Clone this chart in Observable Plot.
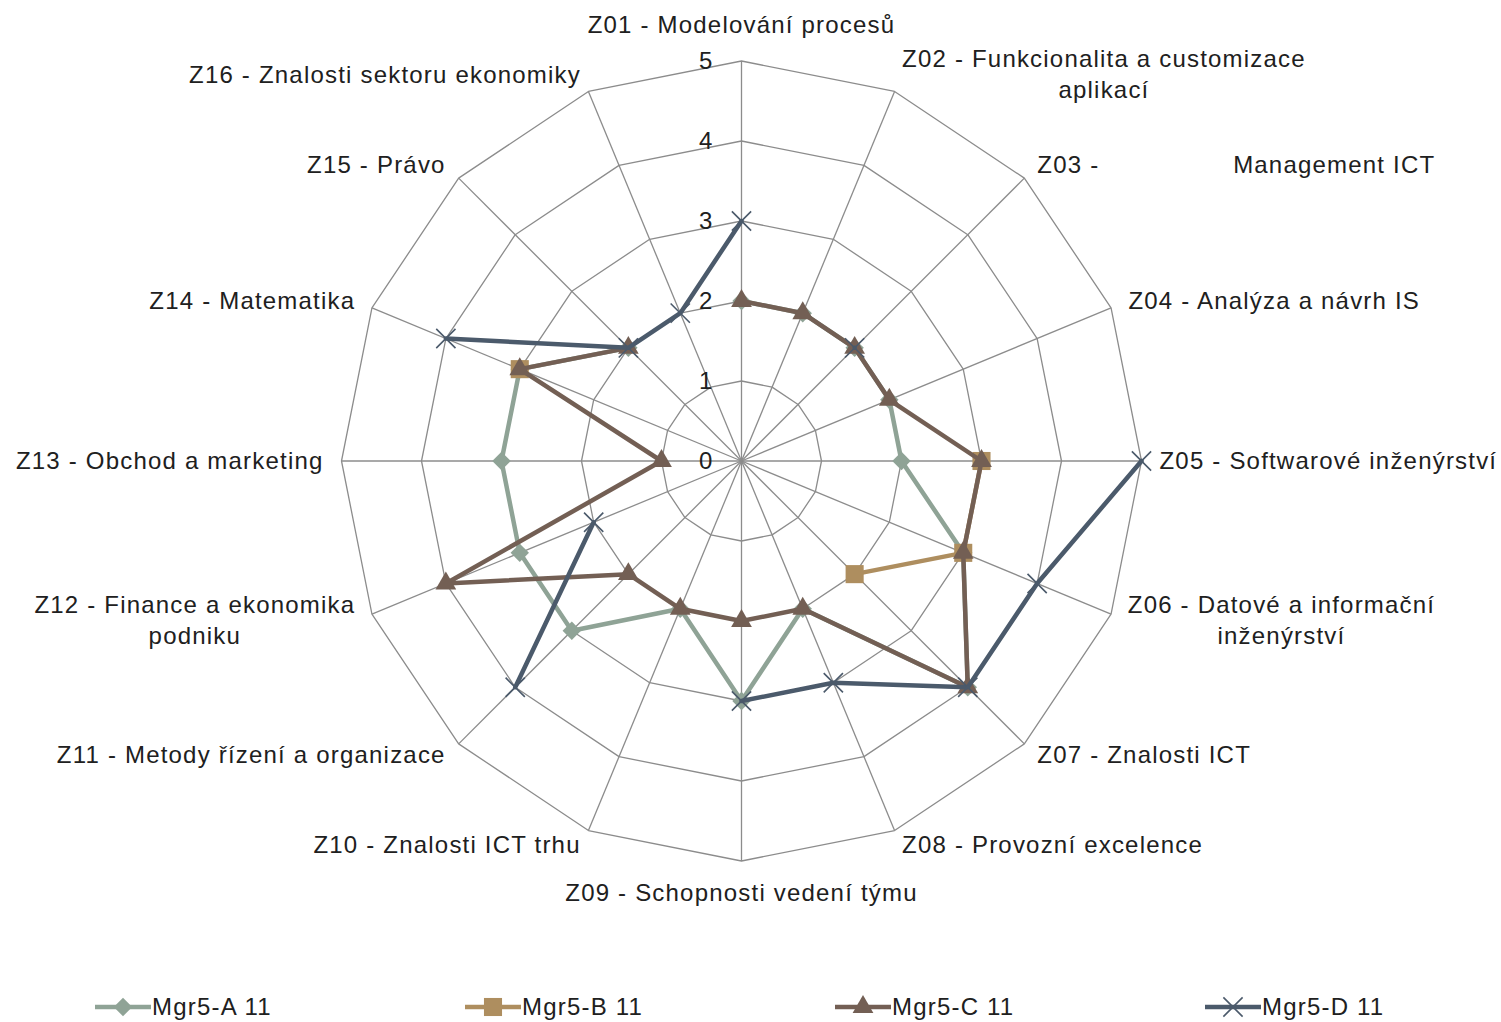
<!DOCTYPE html>
<html>
<head>
<meta charset="utf-8">
<script src="https://cdn.jsdelivr.net/npm/d3@7"></script>
<script src="https://cdn.jsdelivr.net/npm/@observablehq/plot@0.6"></script>
<style>
  body { margin: 0; background: #fff; font-family: "Liberation Sans", Arial, sans-serif; }
  #chart svg text { letter-spacing: 1.2px; }
  #legend { position: relative; width: 1501px; height: 34px; }
  .item { position: absolute; top: 0; height: 34px; display: flex; align-items: center;
          font-size: 24px; color: #202020; letter-spacing: 1.2px; white-space: nowrap; }
  .item svg { display: block; margin-right: 1px; }
</style>
</head>
<body>
<div id="chart"></div>
<div id="legend"></div>
<script>
// ---------- data ----------
const categories = [
  "Z01 - Modelování procesů",
  "Z02 - Funkcionalita a customizace\naplikací",
  "Z03 -" + "\u00a0".repeat(17) + "Management ICT",
  "Z04 - Analýza a návrh IS",
  "Z05 - Softwarové inženýrství",
  "Z06 - Datové a informační\ninženýrství",
  "Z07 - Znalosti ICT",
  "Z08 - Provozní excelence",
  "Z09 - Schopnosti vedení týmu",
  "Z10 - Znalosti ICT trhu",
  "Z11 - Metody řízení a organizace",
  "Z12 - Finance a ekonomika\npodniku",
  "Z13 - Obchod a marketing",
  "Z14 - Matematika",
  "Z15 - Právo",
  "Z16 - Znalosti sektoru ekonomiky"
];
const seriesNames = ["Mgr5-A 11", "Mgr5-B 11", "Mgr5-C 11", "Mgr5-D 11"];
const valuesA = [2, 2, 2, 2, 2, 3, 4, 2, 3, 2, 3, 3, 3, 3, 2, null];
const valuesB = [null, null, null, null, 3, 3, 2, null, null, null, null, null, null, 3, null, null];
const valuesC = [2, 2, 2, 2, 3, 3, 4, 2, 2, 2, 2, 4, 1, 3, 2, null];
const valuesD = [3, null, 2, null, 5, 4, 4, 3, 3, null, 4, 2, null, 4, 2, 2];
const tickValues = [0, 1, 2, 3, 4, 5];

// ---------- styles ----------
const seriesStyle = [
  { values: valuesA, color: "#8fa396", symbol: "diamond2", r: 8.3 },
  { values: valuesB, color: "#ae8e5f", symbol: "square", r: 10.2 },
  { values: valuesC, color: "#735f54", symbol: "triangle", r: 7.7 },
  { values: valuesD, color: "#4b5a6b", symbol: "times", r: 8.8 }
];

const W = 1501, H = 990, CX = 741, CY = 460.5, K = 80, MAXV = 5;
const FONT = 24, LS = 1.2, TXT = "#202020", GRID = "#8c8c8c";
const n = categories.length;
const ang = i => (i % n) * 2 * Math.PI / n;
const px = (v, i) => v * Math.sin(ang(i));
const py = (v, i) => v * Math.cos(ang(i));

// grid
const rings = d3.range(1, MAXV + 1).flatMap(level =>
  d3.range(n + 1).map(j => ({ level, x: px(level, j), y: py(level, j) })));
const spokes = d3.range(n).map(i => ({ x2: px(MAXV, i), y2: py(MAXV, i) }));

// labels (measured to centre multi-line blocks)
const ctx = document.createElement("canvas").getContext("2d");
ctx.font = `${FONT}px "Liberation Sans", Arial, sans-serif`;
const textW = s => ctx.measureText(s).width + s.length * LS;
const labels = categories.map((c, i) => {
  const s = Math.sin(ang(i)), co = Math.cos(ang(i));
  const w = d3.max(c.split("\n"), textW);
  let dxp, dyp;
  if (Math.abs(s) < 1e-6) { dxp = 0; dyp = co > 0 ? -38 : 30; }
  else {
    dxp = Math.sign(s) * (17 * Math.abs(s) + 1 + w / 2);
    dyp = (Math.abs(co) < 1e-6 ? 0 : -16 * co) - 2 - 2 * Math.max(co, 0);
  }
  return { text: c, x: MAXV * s + dxp / K, y: MAXV * co - dyp / K };
});

// series rows (closing back to the first category)
const seriesRows = seriesStyle.map((st, si) =>
  d3.range(n + 1).map(j => {
    const i = j % n, v = st.values[i];
    return { series: seriesNames[si], j, v,
      x: v == null ? NaN : px(v, i), y: v == null ? NaN : py(v, i) };
  }));

const seriesMarks = seriesStyle.flatMap((st, si) => {
  const rows = seriesRows[si];
  const pts = rows.filter(d => d.j < n && d.v != null);
  const dot = st.symbol === "times"
    ? Plot.dot(pts, { x: "x", y: "y", symbol: st.symbol, r: st.r, stroke: st.color, strokeWidth: 1.6, fill: "none" })
    : Plot.dot(pts, { x: "x", y: "y", symbol: st.symbol, r: st.r, fill: st.color, stroke: "none" });
  return [
    Plot.line(rows, { x: "x", y: "y", stroke: st.color, strokeWidth: 4.5, curve: "linear", strokeLinejoin: "round" }),
    dot
  ];
});

const chart = Plot.plot({
  width: W, height: H, margin: 0,
  x: { domain: [-CX / K, (W - CX) / K], axis: null },
  y: { domain: [-(H - CY) / K, CY / K], axis: null },
  style: { background: "#fff", fontFamily: '"Liberation Sans", Arial, sans-serif', overflow: "visible" },
  marks: [
    Plot.line(rings, { x: "x", y: "y", z: "level", stroke: GRID, strokeWidth: 1.3 }),
    Plot.link(spokes, { x1: () => 0, y1: () => 0, x2: "x2", y2: "y2", stroke: GRID, strokeWidth: 1.3 }),
    Plot.text(tickValues, { x: () => 0, y: d => d, text: d => String(d), textAnchor: "end", dx: -28,
      fontSize: FONT, fill: TXT }),
    Plot.text(labels, { x: "x", y: "y", text: "text", textAnchor: "middle", lineAnchor: "middle",
      lineHeight: 1.3, fontSize: FONT, fill: TXT }),
    ...seriesMarks
  ]
});
document.getElementById("chart").append(chart);

// ---------- legend ----------
const legend = d3.select("#legend");
const symMap = { diamond2: d3.symbolDiamond2, square: d3.symbolSquare, triangle: d3.symbolTriangle, times: d3.symbolTimes };
seriesStyle.forEach((st, si) => {
  const item = legend.append("div").attr("class", "item").style("left", (95 + si * 370) + "px");
  const svg = item.append("svg").attr("width", 56).attr("height", 34);
  svg.append("line").attr("x1", 0).attr("x2", 56).attr("y1", 17).attr("y2", 17)
    .attr("stroke", st.color).attr("stroke-width", 4.5);
  const path = d3.symbol(symMap[st.symbol], st.r * st.r * Math.PI)();
  const p = svg.append("path").attr("d", path).attr("transform", "translate(28,17)");
  if (st.symbol === "times") p.attr("fill", "none").attr("stroke", st.color).attr("stroke-width", 1.6);
  else p.attr("fill", st.color);
  item.append("span").text(seriesNames[si]);
});
</script>
</body>
</html>
